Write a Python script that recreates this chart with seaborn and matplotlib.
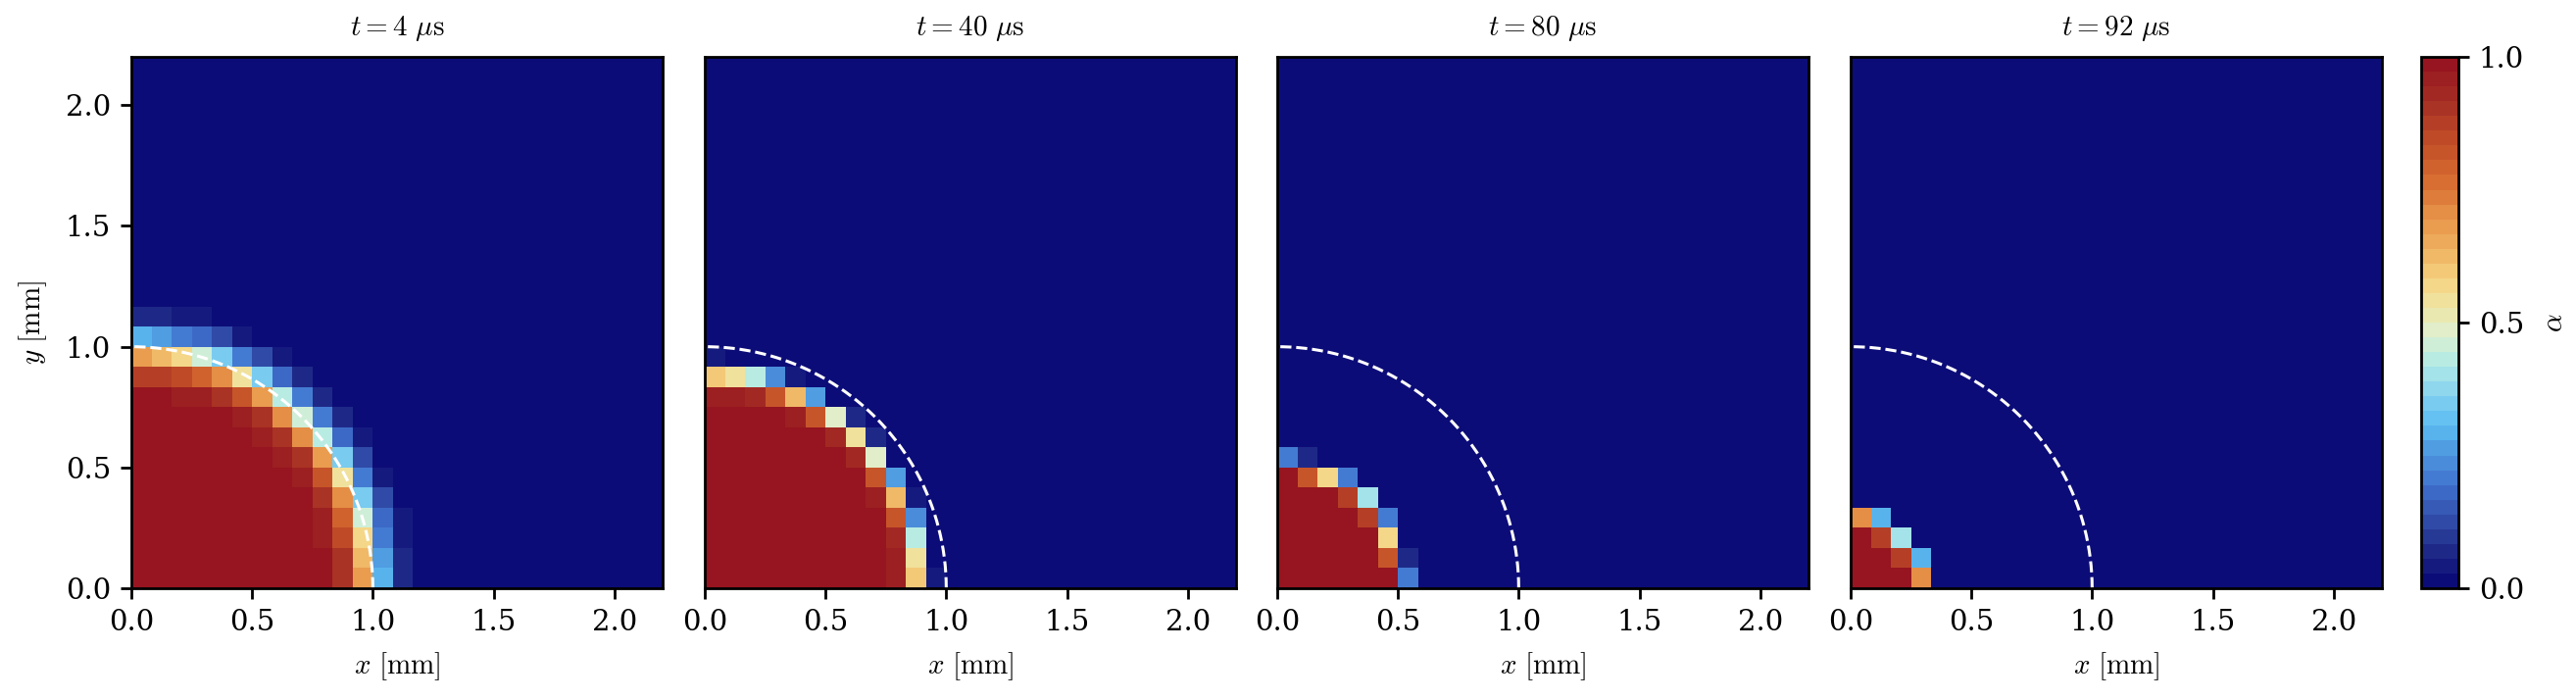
import numpy as np
import pandas as pd
import seaborn as sns
import matplotlib.pyplot as plt
from matplotlib.colors import LinearSegmentedColormap, ListedColormap, Normalize
from matplotlib.cm import ScalarMappable
from matplotlib.ticker import MultipleLocator, FuncFormatter

plt.rcParams['font.family'] = ['DejaVu Serif']
plt.rcParams['mathtext.fontset'] = 'cm'

# -------------------------------------------------------
# data: volume fraction alpha per cell, rows from y=0 upward,
# values from column x=0 onward (cells not listed are 0)
# -------------------------------------------------------
times = [4, 40, 80, 92]
cells_per_mm = 12
n_cells = 27
x_max = 2.2
radius_mm = 1.0

t4_rows = [
    [1]*10 + [0.9, 0.67, 0.3, 0.08],
    [1]*10 + [0.9, 0.62, 0.27, 0.08],
    [1]*9 + [0.95, 0.85, 0.57, 0.22, 0.05],
    [1]*9 + [0.95, 0.8, 0.46, 0.17, 0.04],
    [1]*9 + [0.9, 0.72, 0.35, 0.12],
    [1]*8 + [0.95, 0.83, 0.54, 0.22, 0.04],
    [1]*7 + [0.95, 0.9, 0.67, 0.35, 0.12],
    [1]*6 + [0.95, 0.9, 0.72, 0.43, 0.18, 0.04],
    [1]*5 + [0.95, 0.9, 0.72, 0.46, 0.22, 0.08],
    [1, 1, 0.95, 0.95, 0.9, 0.83, 0.67, 0.43, 0.22, 0.08],
    [0.88, 0.88, 0.85, 0.8, 0.72, 0.54, 0.35, 0.18, 0.08],
    [0.67, 0.62, 0.57, 0.46, 0.35, 0.22, 0.12, 0.04],
    [0.3, 0.27, 0.22, 0.17, 0.12, 0.05],
    [0.08, 0.08, 0.05, 0.05],
]
t40_rows = [
    [1]*9 + [0.95, 0.6, 0.04],
    [1]*9 + [0.95, 0.54],
    [1]*9 + [0.92, 0.43],
    [1]*9 + [0.83, 0.24],
    [1]*8 + [0.95, 0.62, 0.05],
    [1]*8 + [0.83, 0.27],
    [1]*7 + [0.92, 0.49],
    [1]*6 + [0.92, 0.54, 0.08],
    [1]*4 + [0.95, 0.83, 0.49, 0.08],
    [0.95, 0.95, 0.92, 0.83, 0.62, 0.27],
    [0.6, 0.54, 0.43, 0.24, 0.05],
    [0.05],
]
t80_rows = [
    [1]*6 + [0.2],
    [1]*5 + [0.83, 0.08],
    [1]*5 + [0.57],
    [1]*4 + [0.88, 0.22],
    [1]*3 + [0.88, 0.4],
    [1, 0.83, 0.57, 0.22],
    [0.2, 0.08],
]
t92_rows = [
    [1, 1, 1, 0.7],
    [1, 1, 0.88, 0.3],
    [1, 0.88, 0.4],
    [0.7, 0.3],
]
all_rows = [t4_rows, t40_rows, t80_rows, t92_rows]

def to_grid(rows):
    grid = np.zeros((n_cells, n_cells))
    for j, r in enumerate(rows):
        grid[j, :len(r)] = r
    return pd.DataFrame(grid)

# colormap: navy -> blue -> cyan -> pale -> orange -> dark red, 36 levels
anchors = [
    (0.00, '#0c0c78'), (0.05, '#1c2684'), (0.10, '#2c449f'), (0.18, '#3f6fcc'),
    (0.25, '#4f9ae0'), (0.30, '#5bbcf2'), (0.36, '#86d2ef'), (0.42, '#b2ebe6'),
    (0.48, '#dff0cf'), (0.53, '#efe4a3'), (0.58, '#f5d584'), (0.63, '#f0b866'),
    (0.70, '#e8954a'), (0.78, '#d66a30'), (0.85, '#c24e28'), (0.92, '#a83224'),
    (1.00, '#961520'),
]
base = LinearSegmentedColormap.from_list('alpha_map', anchors)
cmap = ListedColormap(base(np.linspace(0, 1, 36)))

W, H = 2628, 714
fig = plt.figure(figsize=(W / 200, H / 200), dpi=200)
lefts = [134, 719, 1303, 1888]
ax_w, ax_top, ax_bot = 542, 58, 600

theta = np.linspace(0, np.pi / 2, 200)
for k, (t, rows) in enumerate(zip(times, all_rows)):
    ax = fig.add_axes([lefts[k] / W, (H - ax_bot) / H, ax_w / W, (ax_bot - ax_top) / H])
    sns.heatmap(to_grid(rows), cmap=cmap, vmin=0, vmax=1, cbar=False, ax=ax,
                xticklabels=False, yticklabels=False)
    lim = x_max * cells_per_mm
    ax.set_xlim(0, lim)
    ax.set_ylim(0, lim)
    r = radius_mm * cells_per_mm
    ax.plot(r * np.cos(theta), r * np.sin(theta), color='white', ls='--', lw=1.1)

    for s in ax.spines.values():
        s.set_visible(True)
        s.set_color('black')
        s.set_linewidth(1.0)
    fmt = FuncFormatter(lambda v, p: f'{v / cells_per_mm:.1f}')
    ax.xaxis.set_major_locator(MultipleLocator(6))
    ax.xaxis.set_major_formatter(fmt)
    ax.tick_params(axis='x', labelsize=10.5, length=4, width=1, direction='out')
    ax.set_xlabel(r'$x\ [\mathrm{mm}]$', fontsize=10.5, labelpad=5)
    ax.set_title(r'$t = %d\ \mu\mathrm{s}$' % t, fontsize=10.5, pad=8)
    if k == 0:
        ax.yaxis.set_major_locator(MultipleLocator(6))
        ax.yaxis.set_major_formatter(fmt)
        ax.tick_params(axis='y', labelsize=10.5, length=4, width=1, direction='out', rotation=0)
        ax.set_ylabel(r'$y\ [\mathrm{mm}]$', fontsize=10.5, labelpad=6)
    else:
        ax.set_yticks([])

cax = fig.add_axes([2470 / W, (H - ax_bot) / H, 38 / W, (ax_bot - ax_top) / H])
cb = fig.colorbar(ScalarMappable(norm=Normalize(0, 1), cmap=cmap), cax=cax)
cb.set_ticks([0.0, 0.5, 1.0])
cb.ax.tick_params(labelsize=10.5, length=4, width=1)
cb.outline.set_linewidth(1.0)
cb.set_label(r'$\alpha$', fontsize=10.5, labelpad=6)

fig.savefig('out.png', dpi=200)
